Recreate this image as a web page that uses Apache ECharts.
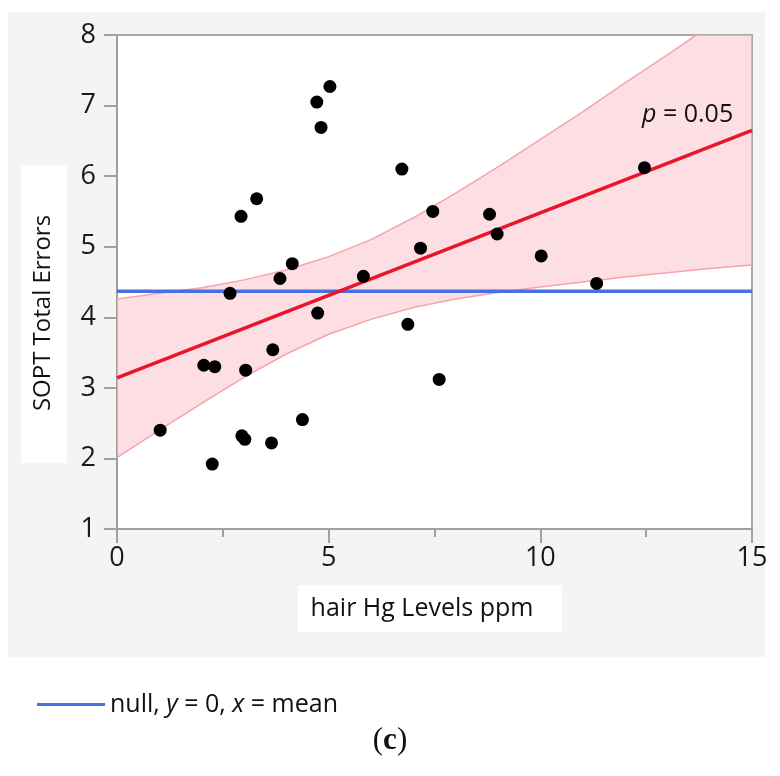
<!DOCTYPE html>
<html>
<head>
<meta charset="utf-8">
<script src="https://cdn.jsdelivr.net/npm/echarts@6/dist/echarts.min.js"></script>
<style>
  html, body { margin: 0; padding: 0; background: #fff; }
  #chart { width: 780px; height: 776px; }
</style>
</head>
<body>
<div id="chart"></div>
<script>
// hair Hg (ppm) vs SOPT total errors
var hairHg = [1.02, 2.05, 2.31, 2.25, 3.04, 3.68, 4.74, 6.87, 2.95, 3.02,
              3.65, 4.38, 7.61, 2.67, 2.93, 3.30, 3.85, 4.14, 4.72, 5.03,
              4.82, 5.82, 6.73, 7.17, 7.46, 8.80, 8.98, 10.02, 11.33, 12.46];
var soptErrors = [2.40, 3.32, 3.30, 1.92, 3.25, 3.54, 4.06, 3.90, 2.32, 2.27,
                  2.22, 2.55, 3.12, 4.34, 5.43, 5.68, 4.55, 4.76, 7.05, 7.27,
                  6.69, 4.58, 6.10, 4.98, 5.50, 5.46, 5.18, 4.87, 4.48, 6.12];

// fit line ends and mean (null) line
var fitX = [0, 15];
var fitY = [3.14, 6.65];
var meanY = [4.37, 4.37];

// confidence band, read at each unit of x
var bandX = [0, 1, 2, 3, 4, 5, 6, 7, 8, 9, 10, 11, 12, 13, 14, 15];
var bandUpper = [4.26, 4.34, 4.42, 4.53, 4.67, 4.86, 5.10, 5.41, 5.76, 6.13, 6.52, 6.91, 7.32, 7.72, 8.13, 8.55];
var bandLower = [2.01, 2.40, 2.78, 3.15, 3.48, 3.76, 3.97, 4.14, 4.26, 4.35, 4.43, 4.50, 4.57, 4.63, 4.69, 4.74];

var xTicks = [0, 5, 10, 15];
var yTicks = [1, 2, 3, 4, 5, 6, 7, 8];

function pairs(xs, ys) {
    var out = [];
    for (var i = 0; i < xs.length; i++) out.push([xs[i], ys[i]]);
    return out;
}

var font = '"Open Sans", "Noto Sans", sans-serif';
var pinkEdge = '#f6a3ad';

var chart = echarts.init(document.getElementById('chart'));
var option = {
    animation: false,
    backgroundColor: '#fff',
    textStyle: { fontFamily: font },
    graphic: [
        { type: 'rect', z: -10, shape: { x: 8, y: 12, width: 757, height: 645 }, style: { fill: '#f4f4f4' } },
        { type: 'rect', z: -5, shape: { x: 21, y: 165, width: 46, height: 298 }, style: { fill: '#fff' } },
        { type: 'rect', z: -5, shape: { x: 298, y: 585, width: 264, height: 47 }, style: { fill: '#fff' } },
        {
            type: 'text', x: 43, y: 313, rotation: Math.PI / 2,
            style: { text: 'SOPT Total Errors', font: '24px ' + font, fill: '#111', align: 'center', verticalAlign: 'middle' }
        },
        {
            type: 'text', x: 422, y: 609,
            style: { text: 'hair Hg Levels ppm', font: '25px ' + font, fill: '#111', align: 'center', verticalAlign: 'middle' }
        },
        {
            type: 'text', x: 642, y: 115, z: 100,
            style: {
                text: '{i|p}{n| = 0.05}', verticalAlign: 'middle',
                rich: {
                    i: { fontFamily: font, fontSize: 25, fontStyle: 'italic', fill: '#111' },
                    n: { fontFamily: font, fontSize: 25, fill: '#111' }
                }
            }
        },
        {
            type: 'text', x: 390, y: 741,
            style: {
                text: '{p|(}{c|c}{p|)}', align: 'center', verticalAlign: 'middle',
                rich: {
                    p: { fontFamily: '"Liberation Serif", serif', fontSize: 31, fill: '#111' },
                    c: { fontFamily: '"Liberation Serif", serif', fontSize: 31, fontWeight: 'bold', fill: '#111' }
                }
            }
        }
    ],
    legend: {
        data: ['null'],
        left: 32, top: 687,
        itemWidth: 68, itemHeight: 3, itemGap: 10,
        icon: 'rect',
        formatter: function () { return '{n|null, }{i|y}{n| = 0, }{i|x}{n| = mean}'; },
        textStyle: {
            rich: {
                n: { fontFamily: font, fontSize: 25, color: '#111' },
                i: { fontFamily: font, fontSize: 25, fontStyle: 'italic', color: '#111' }
            }
        }
    },
    grid: {
        left: 117, right: 28, top: 35, bottom: 247,
        show: true, backgroundColor: '#fff', borderColor: '#a9a9a9', borderWidth: 2
    },
    xAxis: {
        type: 'value', min: 0, max: 15, interval: 5,
        axisLine: { show: true, lineStyle: { color: '#a0a0a0', width: 2 } },
        axisTick: { show: true, length: 14, lineStyle: { color: '#a0a0a0', width: 2 } },
        minorTick: { show: true, splitNumber: 2, length: 8, lineStyle: { color: '#a0a0a0', width: 2 } },
        splitLine: { show: false },
        axisLabel: {
            margin: 16, fontSize: 27, color: '#1a1a1a', fontFamily: font,
            formatter: function (v) { return xTicks.indexOf(v) >= 0 ? String(v) : ''; }
        }
    },
    yAxis: {
        type: 'value', min: 1, max: 8, interval: 1,
        axisLine: { show: true, lineStyle: { color: '#a0a0a0', width: 2 } },
        axisTick: { show: true, length: 13, lineStyle: { color: '#a0a0a0', width: 2 } },
        splitLine: { show: false },
        axisLabel: {
            margin: 21, fontSize: 27, color: '#1a1a1a', fontFamily: font,
            formatter: function (v) { return yTicks.indexOf(v) >= 0 ? String(v) : ''; }
        }
    },
    series: [
        {
            name: 'band',
            type: 'custom',
            clip: true,
            z: 1,
            silent: true,
            data: [0],
            renderItem: function (params, api) {
                var pts = [];
                for (var i = 0; i < bandX.length; i++) pts.push(api.coord([bandX[i], bandUpper[i]]));
                for (var j = bandX.length - 1; j >= 0; j--) pts.push(api.coord([bandX[j], bandLower[j]]));
                return { type: 'polygon', shape: { points: pts }, style: { fill: 'rgba(250, 190, 200, 0.5)' } };
            }
        },
        {
            name: 'upper', type: 'line', z: 2, symbol: 'none',
            data: pairs(bandX, bandUpper),
            lineStyle: { color: pinkEdge, width: 1.5 }
        },
        {
            name: 'lower', type: 'line', z: 2, symbol: 'none',
            data: pairs(bandX, bandLower),
            lineStyle: { color: pinkEdge, width: 1.5 }
        },
        {
            name: 'null', type: 'line', z: 3, symbol: 'none',
            data: pairs(fitX, meanY),
            color: '#4a6fe0',
            lineStyle: { color: '#4a6fe0', width: 3.5 }
        },
        {
            name: 'fit', type: 'line', z: 4, symbol: 'none',
            data: pairs(fitX, fitY),
            lineStyle: { color: '#e8162c', width: 3.5 }
        },
        {
            name: 'points', type: 'scatter', z: 5,
            symbolSize: 13,
            data: pairs(hairHg, soptErrors),
            itemStyle: { color: '#000', opacity: 1 }
        }
    ]
};
chart.setOption(option);
</script>
</body>
</html>
